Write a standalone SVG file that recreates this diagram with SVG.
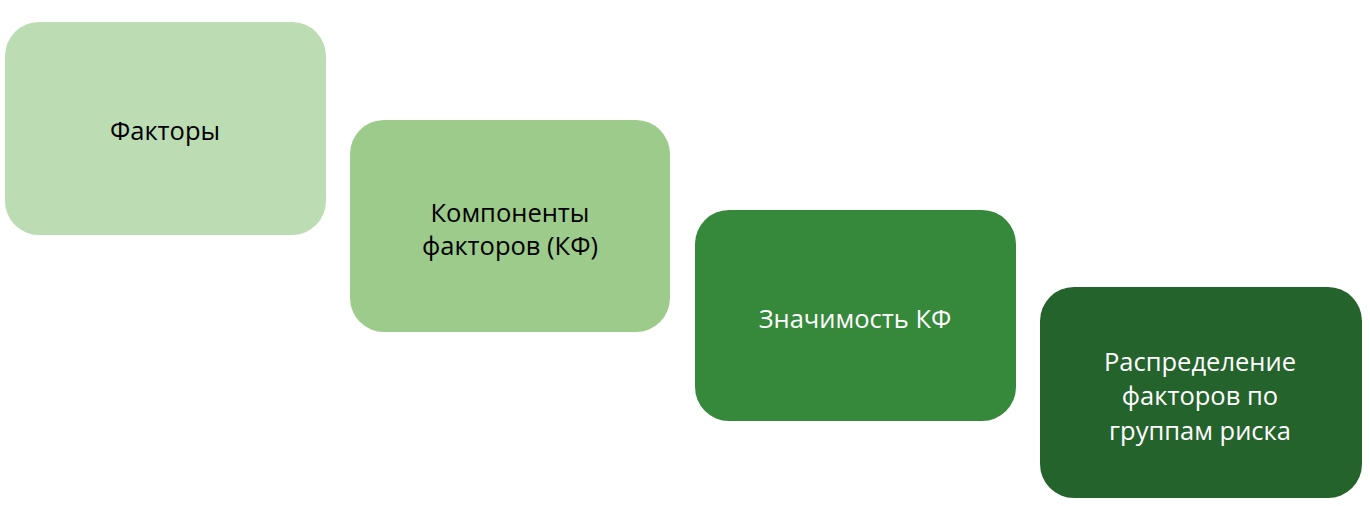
<svg xmlns="http://www.w3.org/2000/svg" width="1370" height="506" viewBox="0 0 1370 506">
<style>
.t{font-family:"Open Sans","Noto Sans","DejaVu Sans",sans-serif;font-size:25.5px;text-anchor:middle;dominant-baseline:central}
.d{fill:#000}
.w{fill:#fff}
</style>
<rect width="1370" height="506" fill="#fff"/>
<g id="connectors"/>
<g id="n1"><rect x="5" y="22" width="321" height="213" rx="34" fill="#bcdcb3"/><text class="t d" x="165" y="130">Факторы</text></g>
<g id="n2"><rect x="350" y="120" width="320" height="212" rx="34" fill="#9dcb8b"/><text class="t d" x="510" y="212">Компоненты</text><text class="t d" x="510" y="245">факторов (КФ)</text></g>
<g id="n3"><rect x="695" y="210" width="321" height="211" rx="34" fill="#36893a"/><text class="t w" x="855" y="318">Значимость КФ</text></g>
<g id="n4"><rect x="1040" y="287" width="322" height="211" rx="34" fill="#24632b"/><text class="t w" x="1200" y="361">Распределение</text><text class="t w" x="1200" y="395">факторов по</text><text class="t w" x="1200" y="430">группам риска</text></g>
</svg>
